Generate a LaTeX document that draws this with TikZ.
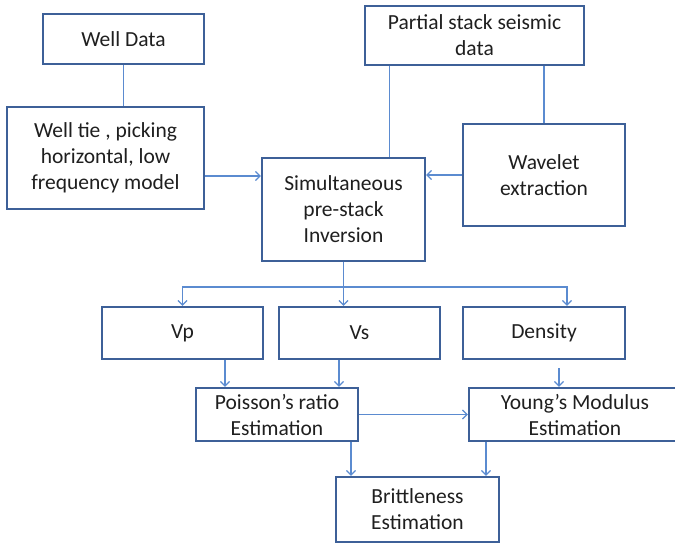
\documentclass[tikz,border=0pt]{standalone}
\usepackage{fontspec}
\setmainfont{Carlito}
\usetikzlibrary{arrows.meta}

\definecolor{boxblue}{HTML}{3D6098}
\definecolor{linkblue}{HTML}{5B8BD0}

\begin{document}
\begin{tikzpicture}[x=1pt, y=-1pt,
  box/.style={draw=boxblue, line width=2.2pt, fill=white, align=center, inner sep=0pt,
    font=\fontsize{21.5}{26}\selectfont, text=black!88},
  link/.style={draw=linkblue, line width=1.3pt},
  arr/.style={link, -{Straight Barb[length=4.5pt,width=9pt]}}]

\useasboundingbox (0,0) rectangle (675,545);
\clip (0,0) rectangle (675,545);

\node[box, minimum width=161pt, minimum height=50pt]  (well)    at (123.5,39)  {Well Data};
\node[box, minimum width=197pt, minimum height=102pt] (tie)     at (105.5,158) {Well tie , picking\\horizontal, low\\frequency model};
\node[box, minimum width=219pt, minimum height=59pt]  (partial) at (474.5,35.5) {Partial stack seismic\\data};
\node[box, minimum width=163pt, minimum height=103pt] (simul)   at (343.5,209.5) {Simultaneous\\pre-stack\\Inversion};
\node[box, minimum width=162pt, minimum height=102pt] (wavelet) at (544,175)   {Wavelet\\extraction};

\node[box, minimum width=161pt, minimum height=52pt] (vp)   at (182.5,333) {Vp};
\node[box, minimum width=161pt, minimum height=52pt] (vs)   at (359.5,333) {Vs};
\node[box, minimum width=162pt, minimum height=52pt] (dens) at (544,333)   {Density};

\node[box, minimum width=162pt, minimum height=53pt] (poisson) at (277,414.5) {Poisson’s ratio\\Estimation};
\node[box, minimum width=212pt, minimum height=53pt] (young)   at (575,414.5) {Young’s Modulus\\Estimation};
\node[box, minimum width=163pt, minimum height=65pt] (brit)    at (417.5,509.5) {Brittleness\\Estimation};

% inputs to the inversion
\draw[link] (well.south) -- (well.south |- tie.north);
\coordinate (t1) at ([yshift=-18pt]tie.east);
\draw[arr] (t1) -- (t1 -| simul.west);
\coordinate (p1) at ([xshift=46pt]simul.north);
\draw[link] (p1) -- (p1 |- partial.south);
\draw[link] (wavelet.north) -- (wavelet.north |- partial.south);
\draw[arr] (wavelet.west) -- (wavelet.west -| simul.east);

% split into the three volumes
\coordinate (bus) at ([yshift=-25pt]simul.south);
\draw[link] (simul.south) -- (bus);
\draw[arr] (bus) -- (bus |- vs.north);
\draw[arr] (bus) -| (vp.north);
\draw[arr] (bus) -| ([xshift=23pt]dens.north);

% elastic parameters
\draw[arr] ([xshift=42.5pt]vp.south) -- ([xshift=42.5pt]vp.south |- poisson.north);
\draw[arr] ([xshift=-20.5pt]vs.south) -- ([xshift=-20.5pt]vs.south |- poisson.north);
\draw[arr] ([xshift=15pt,yshift=-8pt]dens.south) -- ([xshift=15pt]dens.south |- young.north);
\draw[arr] (poisson.east) -- (young.west);
\draw[arr] ([xshift=74pt]poisson.south) -- ([xshift=74pt]poisson.south |- brit.north);
\draw[arr] ([xshift=-89pt]young.south) -- ([xshift=-89pt]young.south |- brit.north);

\end{tikzpicture}
\end{document}
